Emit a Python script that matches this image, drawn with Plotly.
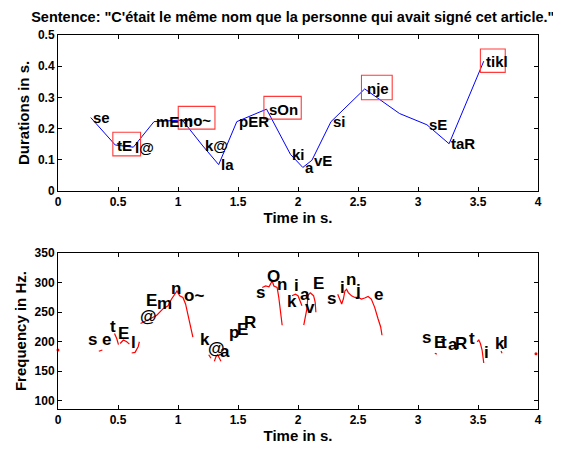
import plotly.graph_objects as go

title_text = 'Sentence: "C\'était le même nom que la personne qui avait signé cet article."'

# ---- top panel: syllable durations ----
syll_labels = ["se", "tE", "l@", "mEm", "no~", "k@", "la", "pER", "sOn", "ki", "a", "vE",
               "si", "nje", "", "sE", "taR", "tikl"]
syll_t = [0.273, 0.477, 0.628, 0.800, 1.036, 1.207, 1.339, 1.490, 1.738, 1.937, 2.040, 2.116,
          2.275, 2.556, 2.846, 3.074, 3.259, 3.548]
syll_dur = [0.235, 0.147, 0.140, 0.222, 0.227, 0.144, 0.084, 0.222, 0.262, 0.117, 0.075, 0.098,
            0.222, 0.327, 0.248, 0.212, 0.151, 0.416]

# stressed syllables (red boxes)
box_x0 = [0.457, 1.002, 1.716, 2.529, 3.520]
box_x1 = [0.688, 1.308, 2.027, 2.785, 3.727]
box_y0 = [0.112, 0.198, 0.230, 0.292, 0.380]
box_y1 = [0.188, 0.271, 0.303, 0.371, 0.455]

# ---- bottom panel: F0 contour (None = unvoiced gap) ----
f0_t = [0.340, 0.370, None,
        0.471, 0.490, 0.504, None,
        0.518, 0.545, 0.573, 0.595, None,
        0.614, 0.642, 0.669, 0.678, None,
        0.688, 0.766, 0.821, 0.876, 0.917, 0.945, 0.964, 0.992, 1.014, 1.041, 1.063, 1.096, 1.124, None,
        1.256, 1.275, None,
        1.303, 1.317, 1.330, 1.345, 1.358, None,
        1.482, 1.496, 1.510, None,
        1.702, 1.730, 1.758, 1.771, 1.785, 1.799, 1.826, 1.840, 1.854, 1.868, None,
        1.950, 1.978, 2.000, 2.019, 2.033, None,
        2.048, 2.074, 2.083, 2.102, 2.116, 2.130, 2.143, 2.149, None,
        2.331, 2.350, 2.364, 2.378, 2.391, 2.405, 2.419, 2.446, 2.474, 2.501, 2.529, 2.556, 2.584,
        2.611, 2.639, 2.667, 2.689, 2.700, None,
        3.140, 3.157, None,
        3.493, 3.507, 3.520, 3.534, 3.548, None,
        3.692, 3.700]
f0_hz = [184, 186, None,
         214, 205, 195, None,
         197, 203, 200, 196, None,
         181, 182, 192, 200, None,
         231, 239, 244.5, 256, 261, 272, 278, 286, 278, 275, 264, 233, 208, None,
         178, 172, None,
         167, 175, 178, 172, 167, None,
         208, 214, 217, None,
         292, 294.5, 293, 297, 303, 294.5, 292, 275, 247, 228, None,
         278, 280.5, 278, 269.5, 261, None,
         228, 255.5, 278, 283, 280.5, 278, 267, 250, None,
         280.5, 269.5, 264, 272.3, 286, 289, 283.3, 277.8, 275, 275, 272.3, 274, 276.7,
         272.3, 258.3, 239, 225, 211, None,
         180.5, 179, None,
         200, 203, 197, 186, 164, None,
         184.5, 180.5]
f0_dot_t = [0.0, 3.983]
f0_dot_hz = [186, 179.5]

phones = ["s", "e", "t", "E", "l", "@", "E", "m", "n", "o~", "k", "@", "a", "p", "E", "R",
          "s", "O", "n", "k", "i", "a", "v", "E", "s", "i", "n", "j", "e",
          "s", "E", "t", "a", "R", "t", "i", "k", "l"]
phone_t = [0.284, 0.408, 0.455, 0.545, 0.628, 0.752, 0.780, 0.890, 0.986, 1.137, 1.228, 1.317,
           1.394, 1.463, 1.537, 1.600, 1.689, 1.799, 1.868, 1.950, 1.990, 2.060, 2.102, 2.170,
           2.275, 2.370, 2.440, 2.496, 2.672, 3.074, 3.176, 3.217, 3.295, 3.361, 3.452, 3.570,
           3.680, 3.727]
phone_hz = [204, 203, 226, 214, 198, 242, 269.5, 265, 290, 278, 204, 189, 183, 215.5, 220.5, 232,
            283, 311, 297, 268, 295.6, 280.5, 258, 299, 273, 291.7, 305.6, 286, 280.5,
            208, 199, 199, 196, 197.3, 205.7, 182.3, 197.3, 199]

x_ticks = [0, 0.5, 1, 1.5, 2, 2.5, 3, 3.5, 4]
x_ticklabels = ["0", "0.5", "1", "1.5", "2", "2.5", "3", "3.5", "4"]
dur_ticks = [0, 0.1, 0.2, 0.3, 0.4, 0.5]
dur_ticklabels = ["0", "0.1", "0.2", "0.3", "0.4", "0.5"]
hz_ticks = [100, 150, 200, 250, 300, 350]
hz_ticklabels = ["100", "150", "200", "250", "300", "350"]

FONT = "Liberation Sans, Arial, sans-serif"

fig = go.Figure()

fig.add_trace(go.Scatter(x=syll_t, y=syll_dur, mode="lines",
                         line=dict(color="#0000ff", width=1), xaxis="x", yaxis="y",
                         showlegend=False, hoverinfo="skip"))

fig.add_trace(go.Scatter(x=f0_t, y=f0_hz, mode="lines", connectgaps=False,
                         line=dict(color="#ff0000", width=1.2), xaxis="x2", yaxis="y2",
                         showlegend=False, hoverinfo="skip"))
fig.add_trace(go.Scatter(x=f0_dot_t, y=f0_dot_hz, mode="markers",
                         marker=dict(color="#ff0000", size=3), xaxis="x2", yaxis="y2",
                         showlegend=False, hoverinfo="skip", cliponaxis=False))

annotations = []
for lab, t, d in zip(syll_labels, syll_t, syll_dur):
    if lab:
        annotations.append(dict(x=t, y=d, xref="x", yref="y", text=lab, showarrow=False,
                                xanchor="left", yanchor="middle",
                                font=dict(family=FONT, size=15, color="black", weight="bold")))
for lab, t, f in zip(phones, phone_t, phone_hz):
    annotations.append(dict(x=t, y=f, xref="x2", yref="y2", text=lab, showarrow=False,
                            xanchor="center", yanchor="middle",
                            font=dict(family=FONT, size=17, color="black", weight="bold")))

shapes = []
for a, b, c, d in zip(box_x0, box_x1, box_y0, box_y1):
    shapes.append(dict(type="rect", xref="x", yref="y", x0=a, x1=b, y0=c, y1=d,
                       line=dict(color="#ff3a3a", width=1.1), fillcolor="rgba(0,0,0,0)"))

tickfont = dict(family=FONT, size=12, color="black", weight="bold")
titlefont = dict(family=FONT, size=15, color="black", weight="bold")
common_axis = dict(showline=True, linecolor="black", linewidth=1, mirror="allticks",
                   ticks="inside", ticklen=4, tickcolor="black", showgrid=False,
                   zeroline=False, tickfont=tickfont)

# page body has an 8px margin, so the figure is 8px smaller and margins shifted accordingly
fig.update_layout(
    width=553, height=444,
    margin=dict(l=46, r=23, t=27, b=37),
    paper_bgcolor="white", plot_bgcolor="white",
    title=dict(text=title_text, x=0.515, xanchor="center", y=0.979, yanchor="middle",
               yref="container", font=dict(family=FONT, size=14.5, color="black", weight="bold")),
    xaxis=dict(domain=[0, 1], range=[0, 4], anchor="y", tickvals=x_ticks, ticktext=x_ticklabels,
               title=dict(text="Time in s.", font=titlefont, standoff=2), **common_axis),
    yaxis=dict(domain=[0.5834, 1], range=[0, 0.5], anchor="x", tickvals=dur_ticks,
               ticktext=dur_ticklabels,
               title=dict(text="Durations in s.", font=titlefont, standoff=4), **common_axis),
    xaxis2=dict(domain=[0, 1], range=[0, 4], anchor="y2", tickvals=x_ticks, ticktext=x_ticklabels,
                title=dict(text="Time in s.", font=titlefont, standoff=2), **common_axis),
    yaxis2=dict(domain=[0, 0.4166], range=[86.1, 350], anchor="x2", tickvals=hz_ticks,
                ticktext=hz_ticklabels,
                title=dict(text="Frequency in Hz.", font=titlefont, standoff=4), **common_axis),
    annotations=annotations,
    shapes=shapes,
)

fig.write_html("out.html")
